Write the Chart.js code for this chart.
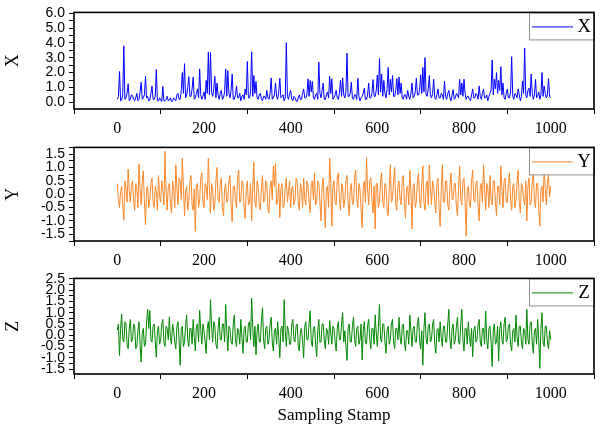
<!DOCTYPE html>
<html>
<head>
<meta charset="utf-8">
<script src="https://cdn.jsdelivr.net/npm/chart.js"></script>
<style>
  body { margin: 0; background: #fff; }
  #wrap { position: relative; width: 600px; height: 436px; }
  canvas { position: absolute; left: 0; }
</style>
</head>
<body>
<div id="wrap">
  <canvas id="chartX" width="600" height="140" style="top:0px"></canvas>
  <canvas id="chartY" width="600" height="140" style="top:135px"></canvas>
  <canvas id="chartZ" width="600" height="170" style="top:266px"></canvas>
</div>
<script>
// sampling stamp: one value every 2.5 samples
var STEP = 2.5;
var stampLabels = [0, 200, 400, 600, 800, 1000];

// tick labels of each panel
var ticksX = [0, 1, 2, 3, 4, 5, 6];
var ticksY = [-1.5, -1.0, -0.5, 0, 0.5, 1.0, 1.5];
var ticksZ = [-1.5, -1.0, -0.5, 0, 0.5, 1.0, 1.5, 2.0, 2.5];

// values
var seriesX = [
  0.2, 0.4, 2.07, 0.1, 0.15, 0.5, 3.8, 0.2, 0.3, 0.6, 1.25, 0.1, 0.2, 0.5, 0.45, 0.2, 0.1, 0.3, 0.6, 0.1,
  0.2, 0.7, 1.35, 0.2, 0.3, 0.5, 1.75, 0.3, 0.4, 0.1, 0.15, 0.6, 1.1, 0.2, 0.2, 0.4, 2.2, 0.1, 0.1, 0.3,
  0.15, 0.05, 1.07, 0.1, 0.1, 0.2, 0.4, 0.1, 0.15, 0.3, 0.05, 0.1, 0.3, 0.2, 0.1, 0.5, 0.6, 0.2, 0.2, 0.8,
  2.0, 0.6, 2.6, 0.3, 0.5, 1.0, 1.73, 0.4, 0.4, 0.9, 1.7, 0.2, 0.3, 0.6, 0.9, 0.3, 2.25, 0.5, 0.2, 0.4,
  0.7, 0.2, 1.47, 0.6, 3.4, 0.5, 3.35, 0.7, 0.4, 0.9, 1.75, 0.3, 1.3, 0.5, 0.2, 0.6, 0.8, 0.2, 0.3, 0.7,
  2.25, 0.4, 2.13, 0.6, 0.3, 0.8, 1.9, 0.2, 0.2, 0.5, 1.1, 0.3, 0.3, 0.6, 0.1, 0.4, 0.5, 0.2, 0.9, 0.5,
  2.75, 0.3, 0.3, 0.7, 3.4, 0.4, 1.8, 0.6, 1.4, 0.3, 0.2, 0.5, 0.6, 0.2, 0.1, 0.4, 0.4, 0.2, 0.8, 0.3,
  0.2, 0.6, 1.64, 0.2, 0.3, 0.5, 1.3, 0.4, 0.2, 0.7, 1.62, 0.3, 0.4, 0.5, 0.1, 0.3, 4.02, 0.4, 0.2, 0.6,
  0.8, 0.2, 0.1, 0.4, 0.3, 0.1, 0.05, 0.3, 0.5, 0.2, 0.2, 0.6, 0.9, 0.3, 0.3, 0.5, 1.58, 0.4, 1.47, 0.7,
  1.4, 0.3, 0.2, 0.5, 0.6, 0.2, 2.7, 0.6, 0.3, 0.8, 1.3, 0.2, 0.2, 0.5, 0.7, 0.3, 1.75, 0.6, 1.58, 0.2,
  0.3, 0.5, 0.8, 0.3, 0.2, 0.6, 1.5, 0.4, 1.65, 0.5, 0.3, 0.7, 3.3, 0.4, 0.4, 0.6, 1.35, 0.3, 0.2, 0.5,
  0.5, 0.2, 1.62, 0.4, 0.1, 0.3, 0.4, 0.6, 0.95, 0.2, 0.2, 0.5, 1.3, 0.3, 0.3, 0.6, 1.53, 0.4, 0.4, 0.8,
  1.84, 0.5, 2.95, 0.7, 1.9, 0.4, 1.47, 0.6, 0.3, 0.9, 2.35, 0.5, 1.55, 0.7, 1.8, 0.4, 0.4, 0.8, 1.6, 0.5,
  1.7, 0.6, 1.3, 0.3, 0.2, 0.5, 0.5, 0.2, 0.8, 0.4, 0.2, 0.6, 1.3, 0.3, 0.4, 0.7, 1.62, 0.5, 0.5, 0.8,
  1.85, 0.6, 2.35, 0.7, 3.0, 0.5, 0.4, 0.9, 1.8, 0.4, 0.3, 0.6, 1.55, 0.3, 0.2, 0.5, 0.9, 0.3, 0.3, 0.6,
  0.5, 0.2, 1.42, 0.4, 0.2, 0.6, 0.8, 0.3, 0.1, 0.5, 0.85, 0.2, 0.3, 0.6, 0.5, 0.3, 1.55, 0.5, 1.3, 0.4,
  1.55, 0.6, 0.2, 0.4, 0.4, 0.2, 0.1, 0.5, 0.9, 0.3, 0.3, 0.6, 0.5, 0.2, 1.1, 0.4, 0.2, 0.6, 0.9, 0.3,
  0.3, 0.5, 0.1, 0.4, 0.6, 0.8, 2.85, 0.5, 1.55, 0.9, 2.0, 0.6, 1.47, 0.8, 2.4, 0.5, 1.3, 0.3, 0.2, 0.6,
  0.9, 0.3, 0.3, 0.7, 3.07, 0.4, 0.2, 0.6, 0.5, 0.3, 0.9, 0.5, 0.1, 0.4, 1.42, 0.6, 3.65, 0.5, 0.3, 0.8,
  0.95, 0.4, 1.9, 0.6, 0.2, 0.5, 1.53, 0.3, 0.4, 0.7, 0.2, 0.5, 2.0, 0.4, 1.1, 0.6, 0.3, 0.5, 1.6, 0.4,
  0.3
];
var seriesY = [
  0.4, -0.2, -0.5, 0.1, 0.3, -0.4, -0.97, 0.5, 0.2, -0.3, 0.94, 0.1, -0.3, 0.3, 0.5, -0.2, -0.6, 0.4, 0.2, -0.5,
  1.14, 0.2, -0.4, 0.5, 0.87, -0.3, -1.15, 0.2, 0.3, -0.5, -0.2, 0.4, 0.6, -0.3, -0.5, 0.3, 0.1, -0.6, 0.7, -0.1,
  -0.3, 0.5, 0.2, -0.4, 1.6, 0.1, -0.6, 0.3, 0.4, -0.3, -0.7, 0.5, 0.2, -0.5, 1.1, 0.2, -0.4, 0.6, 0.5, -0.2,
  1.36, 0.3, -0.8, 0.1, 0.3, -0.6, -0.3, 0.5, 0.7, -0.4, -0.6, 0.2, -1.39, 0.3, 0.4, -0.5, -0.2, 0.6, 0.8, -0.3,
  -0.5, 0.4, 0.3, -0.2, 1.35, 0.2, -0.7, 0.4, 0.2, -0.6, -0.4, 0.5, 1.0, -0.2, -0.3, 0.4, 0.6, -0.5, -0.8, 0.2,
  0.4, -0.3, -0.2, 0.5, 0.7, -0.4, -1.03, 0.3, 0.3, -0.2, -0.5, 0.6, 0.9, -0.3, -0.2, 0.5, 0.4, -0.5, -0.9, 0.2,
  0.5, -0.4, -0.3, 0.4, -1.0, 0.3, 1.2, -0.3, -0.5, 0.5, 0.3, -0.4, -0.6, 0.2, 0.7, -0.3, -0.2, 0.5, 0.4, -0.6,
  -0.7, 0.3, 0.5, -0.2, 1.06, 0.3, 1.17, -0.4, -0.3, 0.4, -0.87, 0.2, 0.4, -0.5, -0.4, 0.3, 0.6, -0.3, 0.1, 0.5,
  -0.5, 0.2, 0.3, -0.4, -0.2, 0.6, 0.5, -0.3, -0.6, 0.4, 0.2, -0.5, 0.6, -0.2, -0.4, 0.5, 0.3, -0.3, -0.7, 0.4,
  0.5, -0.2, 0.8, -0.4, -0.3, 0.5, 0.4, -0.3, -1.0, 0.3, 0.6, -0.4, -1.27, 0.2, 0.3, -0.5, 1.36, 0.4, -1.2, 0.3,
  0.5, -0.3, -0.4, 0.6, 0.8, -0.2, -0.6, 0.4, 0.3, -0.5, -0.2, 0.5, 0.7, -0.3, -0.8, 0.2, 0.4, -0.4, -0.3, 0.6,
  0.9, -0.2, -0.5, 0.4, 0.2, -0.6, -1.25, 0.3, 0.5, -0.3, 1.38, 0.2, -0.4, 0.5, 0.6, -0.2, -0.7, 0.3, -1.3, 0.4,
  0.4, -0.5, -0.3, 0.5, 0.8, -0.3, -0.5, 0.4, 0.3, -0.6, -0.8, 0.2, 1.11, -0.3, -0.2, 0.5, 1.0, -0.4, -0.6, 0.3,
  0.5, -0.2, -0.4, 0.6, 0.7, -0.3, -0.9, 0.2, 0.3, -0.4, 0.9, 0.1, -1.3, 0.3, 0.4, -0.5, -0.3, 0.5, 0.8, -0.2,
  -0.5, 0.4, 1.06, -0.3, -0.6, 0.3, 0.5, -0.4, 1.1, 0.2, -0.4, 0.5, 0.3, -0.3, -0.7, 0.4, 0.6, -0.5, -1.2, 0.2,
  1.1, -0.3, -0.3, 0.5, 0.5, -0.4, -0.6, 0.3, 0.8, -0.2, -0.2, 0.4, 0.4, -0.5, -0.8, 0.3, 1.06, -0.2, -0.4, 0.5,
  0.6, -0.3, -1.57, 0.2, 0.3, -0.4, -0.5, 0.5, 0.9, -0.2, -0.3, 0.4, 0.5, -0.5, -1.0, 0.3, 0.4, -0.3, 1.1, 0.2,
  -0.6, 0.4, 0.2, -0.5, 0.7, -0.2, -0.4, 0.5, 0.5, -0.3, -0.8, 0.3, 0.3, -0.4, 1.06, 0.2, -0.5, 0.5, 0.6, -0.3,
  -0.3, 0.4, 0.8, -0.2, -0.6, 0.3, 0.4, -0.5, -0.2, 0.5, 0.9, -0.3, -0.7, 0.4, 0.3, -0.2, -0.4, 0.5, -1.0, 0.3,
  0.6, -0.4, -0.3, 0.5, 0.8, -0.2, -0.5, 0.4, 0.4, -0.6, -1.2, 0.2, 0.3, -0.3, 1.0, 0.2, -0.4, 0.5, 0.7, -0.1,
  0.3
];
var seriesZ = [
  0.23, 0.5, -0.9, 0.3, 0.94, -0.2, -0.3, 0.6, 0.5, -0.4, -0.6, 0.3, 0.7, -0.3, -0.2, 0.5, 0.4, -0.6, -0.5, 0.2,
  0.6, -0.4, -1.19, 0.1, 0.3, -0.5, -0.4, 0.6, 1.15, 0.3, 1.1, -0.2, -0.3, 0.4, 0.5, -0.3, -0.98, 0.2, 0.4, -0.4,
  -0.2, 0.5, 0.7, -0.3, -0.5, 0.4, 0.3, -0.2, 0.8, -0.1, -0.4, 0.5, 0.2, -0.3, -0.6, 0.4, 0.6, -0.2, -1.33, 0.3,
  0.4, -0.5, -0.3, 0.4, 0.9, -0.2, -0.5, 0.3, 0.3, -0.4, 0.7, -0.1, -0.7, 0.4, 0.5, -0.3, 1.1, 0.2, -0.4, 0.5,
  0.2, -0.3, -0.8, 0.3, 0.6, -0.2, 1.58, 0.4, -0.3, 0.6, 0.4, -0.4, -0.6, 0.3, 0.8, -0.2, -0.2, 0.5, 0.5, -0.3,
  1.36, 0.2, -0.7, 0.4, 0.3, -0.3, -0.4, 0.5, 0.9, -0.2, -0.5, 0.3, 0.2, -0.4, 0.7, -0.1, -0.8, 0.3, 0.4, -0.3,
  -0.3, 0.5, 0.6, -0.2, 1.65, 0.3, -0.5, 0.4, -0.86, 0.2, 0.5, -0.3, -0.3, 0.6, 1.22, -0.2, -0.6, 0.3, 0.4, -0.4,
  -0.2, 0.5, 0.8, -0.3, -0.7, 0.2, 0.3, -0.4, 0.6, -0.1, -1.0, 0.3, 0.4, -0.3, 1.58, 0.2, -0.5, 0.4, 0.2, -0.4,
  -0.4, 0.5, 0.7, -0.2, -0.3, 0.4, 0.5, -0.5, -0.7, 0.2, 0.3, -0.3, -1.0, 0.4, 0.6, -0.2, -0.2, 0.5, 1.08, -0.3,
  -0.5, 0.3, 0.4, -0.4, -0.95, 0.2, 0.7, -0.3, -0.3, 0.5, 0.5, -0.2, -0.6, 0.3, 0.2, -0.4, 0.65, 0.1, -0.4, 0.4,
  0.3, -0.3, -0.7, 0.3, 0.6, -0.2, -0.2, 0.5, 1.0, -0.3, 0.2, -0.5, -1.12, 0.3, 0.5, -0.3, -0.3, 0.4, 0.8, -0.2,
  -0.5, 0.3, 0.4, -0.4, -0.2, 0.5, -1.1, 0.2, 0.6, -0.3, -0.4, 0.4, 0.7, -0.2, -0.6, 0.3, 0.3, -0.4, 0.9, 0.1,
  -0.5, 0.4, 1.36, -0.2, -0.3, 0.5, 0.5, -0.3, -0.8, 0.2, 0.4, -0.4, -0.2, 0.5, 0.7, -0.3, -0.6, 0.3, 0.3, -0.2,
  0.8, -0.1, -0.4, 0.4, 0.5, -0.3, -0.7, 0.2, 0.2, -0.4, 0.9, 0.2, -0.5, 0.3, 0.4, -0.3, -0.3, 0.5, 0.8, -0.2,
  -0.6, 0.2, -1.33, 0.3, 1.0, -0.2, -0.4, 0.4, 0.5, -0.3, -0.2, 0.5, 0.7, -0.4, -0.8, 0.2, 0.3, -0.3, 0.6, -0.1,
  -0.5, 0.4, 0.4, -0.3, -0.3, 0.5, 1.15, -0.2, -0.6, 0.3, 0.5, -0.4, -0.2, 0.4, 0.8, -0.3, -0.4, 0.5, 1.15, -0.2,
  -0.7, 0.3, 0.3, -0.4, 0.6, -0.1, -0.5, 0.3, -0.95, 0.2, 0.4, -0.3, -0.2, 0.5, 0.7, -0.3, -0.5, 0.3, 0.3, -0.4,
  1.08, -0.2, -0.6, 0.3, 0.4, -0.3, -1.38, 0.2, 0.5, -0.4, -0.3, 0.4, -1.15, 0.3, 0.6, -0.2, -0.4, 0.5, 0.8, -0.3,
  -0.2, 0.4, 0.5, -0.4, -0.7, 0.2, 0.3, -0.3, 0.9, -0.1, -0.5, 0.4, 0.4, -0.3, -0.6, 0.3, 0.2, -0.4, 1.15, -0.2,
  -0.4, 0.5, 0.6, -0.3, -0.8, 0.2, 0.3, -0.4, 0.7, -0.2, -1.47, 0.3, 1.0, -0.3, -0.5, 0.4, 0.4, -0.3, -0.6, 0.2,
  -0.2
];

// turn a list of values into {x, y} points on the sampling stamp axis
function toPoints(values){
  var pts = [];
  for (var i = 0; i < values.length; i++){
    pts.push({x: i * STEP, y: values[i]});
  }
  return pts;
}

// legend box in the top right corner and the black frame round the plot
var framePlugin = {
  id: 'frame',
  afterDraw: function(chart){
    var ctx = chart.ctx;
    var a = chart.chartArea;
    var ds = chart.data.datasets[0];
    var bx = a.right - 65, by = a.top, bw = 65, bh = 27;
    ctx.save();
    ctx.fillStyle = '#fff';
    ctx.fillRect(bx, by, bw, bh);
    ctx.strokeStyle = '#8c8c8c';
    ctx.lineWidth = 1;
    ctx.strokeRect(bx + 0.5, by + 0.5, bw, bh);
    ctx.strokeStyle = ds.borderColor;
    ctx.beginPath();
    ctx.moveTo(bx + 3, by + 14.5);
    ctx.lineTo(bx + 44, by + 14.5);
    ctx.stroke();
    ctx.fillStyle = '#000';
    ctx.font = '19px "Liberation Serif"';
    ctx.textAlign = 'center';
    ctx.textBaseline = 'middle';
    ctx.fillText(ds.label, bx + 55, by + 15);
    ctx.strokeStyle = '#000';
    ctx.lineWidth = 1.6;
    ctx.strokeRect(a.left, a.top, a.right - a.left, a.bottom - a.top);
    ctx.restore();
  }
};

// function to draw one panel
function drawPanel(id, label, values, color, yMin, yMax, yTicks, minorStep, axisHeight, padTop, withTitle){
  var minor = [];
  var first = Math.ceil(yMin / minorStep) * minorStep;
  for (var v = first; v <= yMax + 1e-9; v += minorStep){
    minor.push(Math.round(v * 100) / 100);
  }
  var ctx = document.getElementById(id).getContext('2d');
  return new Chart(ctx, {
    type: 'line',
    data: {
      datasets: [{
        label: label,
        data: toPoints(values),
        borderColor: color,
        borderWidth: 1,
        pointRadius: 0,
        tension: 0,
        fill: false
      }]
    },
    options: {
      responsive: false,
      animation: false,
      layout: { padding: { top: padTop, right: 6, left: 0, bottom: 0 } },
      plugins: { legend: { display: false }, tooltip: { enabled: false } },
      scales: {
        x: {
          type: 'linear',
          min: -100,
          max: 1100,
          afterFit: function(scale){ scale.height = axisHeight; },
          afterBuildTicks: function(scale){
            var t = [];
            for (var s = -100; s <= 1100; s += 100) t.push({value: s});
            scale.ticks = t;
          },
          border: { display: false },
          grid: {
            drawOnChartArea: false,
            tickLength: 5,
            tickColor: function(c){
              return stampLabels.indexOf(c.tick.value) >= 0 ? 'rgba(0,0,0,0)' : '#000';
            }
          },
          ticks: {
            autoSkip: false,
            maxRotation: 0,
            padding: 5,
            color: '#000',
            font: { family: 'Liberation Serif', size: 16 },
            callback: function(val){ return stampLabels.indexOf(val) >= 0 ? String(val) : ''; }
          },
          title: {
            display: withTitle,
            text: 'Sampling Stamp',
            color: '#000',
            font: { family: 'Liberation Serif', size: 17 },
            padding: { top: 0, bottom: 10 }
          }
        },
        y: {
          min: yMin,
          max: yMax,
          afterFit: function(scale){ scale.width = 74; },
          afterBuildTicks: function(scale){
            scale.ticks = minor.map(function(m){ return {value: m}; });
          },
          border: { display: false },
          grid: { drawOnChartArea: false, tickLength: 5, tickColor: '#000' },
          ticks: {
            autoSkip: false,
            padding: 4,
            color: '#000',
            font: { family: 'Liberation Sans', size: 14 },
            callback: function(val){
              for (var k = 0; k < yTicks.length; k++){
                if (Math.abs(yTicks[k] - val) < 1e-6) return yTicks[k].toFixed(1);
              }
              return '';
            }
          },
          title: {
            display: true,
            text: label,
            color: '#000',
            font: { family: 'Liberation Serif', size: 18 },
            padding: { top: 2, bottom: 0 }
          }
        }
      }
    },
    plugins: [framePlugin]
  });
}

drawPanel('chartX', 'X', seriesX, '#0000ff', -0.45, 6.05, ticksX, 0.5, 31, 11, false);
drawPanel('chartY', 'Y', seriesY, 'rgb(250,135,40)', -1.75, 1.75, ticksY, 0.25, 34, 9, false);
drawPanel('chartZ', 'Z', seriesZ, 'rgb(0,135,0)', -1.72, 2.52, ticksZ, 0.25, 62, 9, true);
</script>
</body>
</html>
